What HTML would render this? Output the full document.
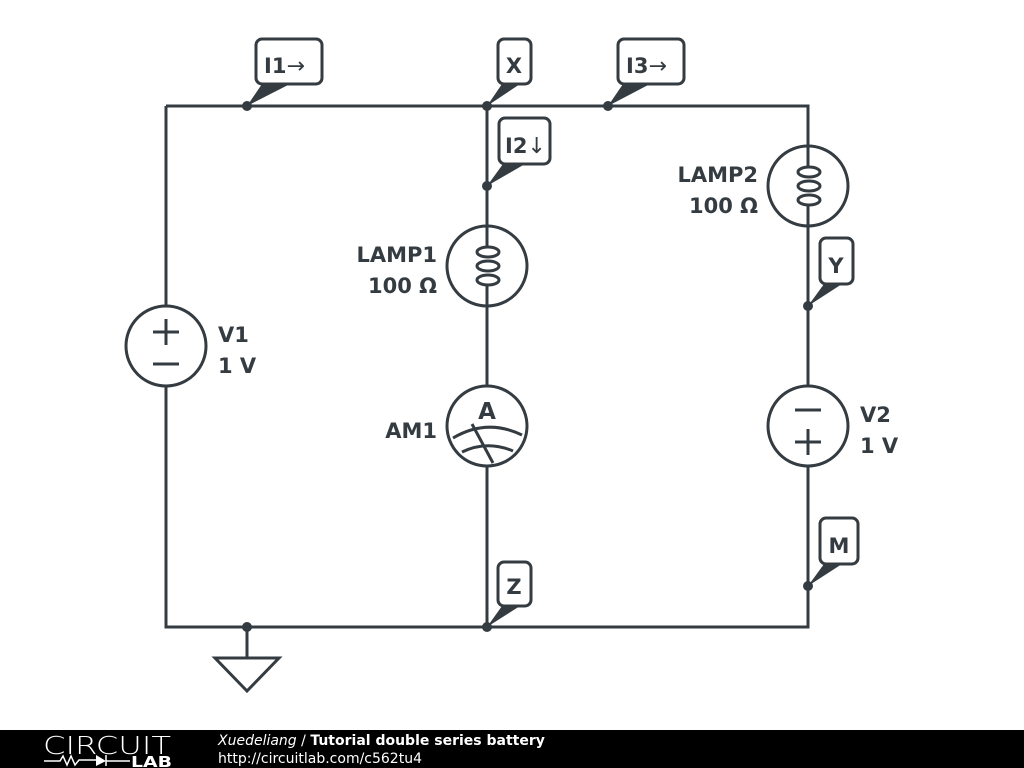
<!DOCTYPE html>
<html><head><style>
html,body{margin:0;padding:0;background:#fff;width:1024px;height:768px;overflow:hidden}
svg{display:block}
text{font-family:"DejaVu Sans","Liberation Sans",sans-serif;font-weight:bold;fill:#343c42}
</style></head><body>
<svg width="1024" height="768" viewBox="0 0 1024 768" xmlns="http://www.w3.org/2000/svg">
<g stroke="#343c42" stroke-width="3" fill="none">
<path d="M166 106H808V146M808 226V386M808 466V627H166V386M166 306V106"/>
<path d="M487 106V226M487 306V386M487 466V627"/>
<path d="M247 627V658M215 658H279L247 691Z"/>
<circle cx="166" cy="346" r="40"/>
<path d="M153 332H179M166 319V345M153 364H179"/>
<circle cx="808" cy="426" r="40"/>
<path d="M795 410H821M795 442H821M808 429V455"/>
<circle cx="487" cy="266" r="40"/>
<circle cx="808" cy="186" r="40"/>
<circle cx="487" cy="426" r="40"/>
<path d="M453 438Q487 418 522 435M462 452Q487 440 513 451M472 424L493 463"/>
<path d="M487 226V247M487 285V306"/>
<ellipse cx="488" cy="252" rx="11" ry="5"/>
<ellipse cx="488" cy="266" rx="11" ry="5"/>
<ellipse cx="488" cy="280" rx="11" ry="5"/>
<path d="M808 146V167M808 205V226"/>
<ellipse cx="809" cy="172" rx="11" ry="5"/>
<ellipse cx="809" cy="186" rx="11" ry="5"/>
<ellipse cx="809" cy="200" rx="11" ry="5"/>
</g>
<text x="487" y="419" font-size="23" text-anchor="middle">A</text>
<g fill="#343c42">
<circle cx="247" cy="106" r="5"/><circle cx="487" cy="106" r="5"/><circle cx="608" cy="106" r="5"/>
<circle cx="487" cy="186" r="5"/><circle cx="808" cy="306" r="5"/><circle cx="808" cy="586" r="5"/>
<circle cx="487" cy="627" r="5"/><circle cx="247" cy="627" r="5"/>
<path d="M247 106L262 84H290Z"/><path d="M487 106L502 84H520Z"/><path d="M608 106L623 84H650Z"/>
<path d="M487 186L503 164H525Z"/><path d="M808 306L824 284H842Z"/><path d="M808 586L824 564H842Z"/>
<path d="M487 627L502 606H520Z"/>
</g>
<g fill="#fff" stroke="#343c42" stroke-width="3">
<rect x="256" y="39" width="66" height="45" rx="6"/>
<rect x="498" y="39" width="33" height="45" rx="6"/>
<rect x="618" y="39" width="66" height="45" rx="6"/>
<rect x="499" y="118" width="51" height="46" rx="6"/>
<rect x="820" y="238" width="33" height="46" rx="6"/>
<rect x="820" y="518" width="38" height="46" rx="6"/>
<rect x="498" y="562" width="33" height="44" rx="6"/>
</g>
<g font-size="21">
<text x="264" y="73">I1<tspan font-weight="normal" font-size="22">→</tspan></text>
<text x="514" y="73" text-anchor="middle">X</text>
<text x="626" y="73">I3<tspan font-weight="normal" font-size="22">→</tspan></text>
<text x="505" y="153">I2<tspan font-weight="normal" font-size="22">↓</tspan></text>
<text x="836" y="273" text-anchor="middle">Y</text>
<text x="839" y="553" text-anchor="middle">M</text>
<text x="514" y="594" text-anchor="middle">Z</text>
<text x="437" y="262" text-anchor="end">LAMP1</text>
<text x="437" y="293" text-anchor="end">100 Ω</text>
<text x="758" y="182" text-anchor="end">LAMP2</text>
<text x="758" y="213" text-anchor="end">100 Ω</text>
<text x="218" y="342">V1</text>
<text x="218" y="373">1 V</text>
<text x="860" y="422">V2</text>
<text x="860" y="453">1 V</text>
<text x="437" y="438" text-anchor="end">AM1</text>
</g>
<rect x="0" y="730" width="1024" height="38" fill="#000"/>
<text x="43" y="754" font-size="25" textLength="128" lengthAdjust="spacingAndGlyphs" style="fill:#fff;font-family:'DejaVu Sans ExtraLight','DejaVu Sans',sans-serif;font-weight:200">CIRCUIT</text>
<path d="M44 761H60L63 756L67 765L71 756L75 765L79 760H96M106 755V766M106 761H130" stroke="#fff" stroke-width="1.5" fill="none"/>
<path d="M96 755V766L106 761Z" fill="#fff"/>
<text x="131" y="767" font-size="15" textLength="41" lengthAdjust="spacingAndGlyphs" style="fill:#fff">LAB</text>
<text x="218" y="745" font-size="14" style="fill:#fff"><tspan font-style="italic" font-weight="normal">Xuedeliang</tspan><tspan font-weight="normal"> / </tspan>Tutorial double series battery</text>
<text x="218" y="763" font-size="14" style="fill:#fff;font-weight:normal">http://circuitlab.com/c562tu4</text>
</svg>
</body></html>
